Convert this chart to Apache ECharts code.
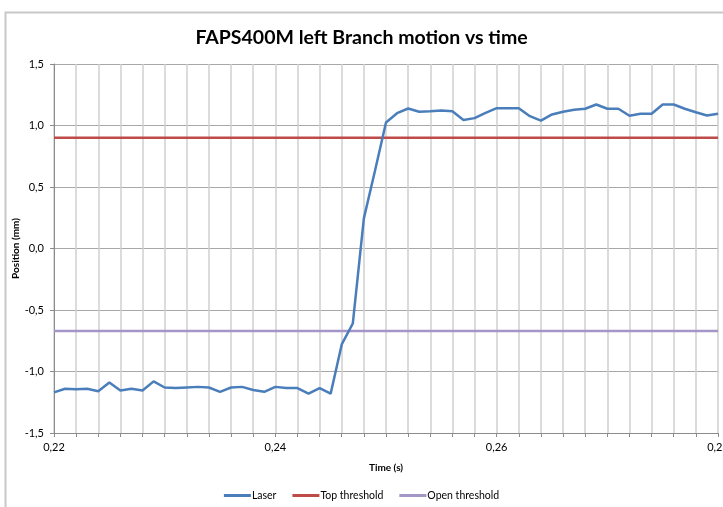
<!DOCTYPE html>
<html>
<head>
<meta charset="utf-8">
<script src="https://cdn.jsdelivr.net/npm/echarts@6/dist/echarts.min.js"></script>
<style>html,body{margin:0;padding:0;background:#fff;}#c{width:723px;height:507px;}</style>
</head>
<body>
<div id="c"></div>
<script>
const titleText = 'FAPS400M left Branch motion vs time';
const seriesNames = ['Laser', 'Top threshold', 'Open threshold'];
const times = [0.220,0.221,0.222,0.223,0.224,0.225,0.226,0.227,0.228,0.229,
  0.230,0.231,0.232,0.233,0.234,0.235,0.236,0.237,0.238,0.239,
  0.240,0.241,0.242,0.243,0.244,0.245,0.246,0.247,0.248,0.249,
  0.250,0.251,0.252,0.253,0.254,0.255,0.256,0.257,0.258,0.259,
  0.260,0.261,0.262,0.263,0.264,0.265,0.266,0.267,0.268,0.269,
  0.270,0.271,0.272,0.273,0.274,0.275,0.276,0.277,0.278,0.279,0.280];
const laser = [-1.17,-1.14,-1.145,-1.14,-1.16,-1.09,-1.155,-1.14,-1.155,-1.08,
  -1.13,-1.135,-1.13,-1.125,-1.13,-1.165,-1.13,-1.125,-1.15,-1.165,
  -1.125,-1.135,-1.135,-1.18,-1.135,-1.18,-0.78,-0.61,0.245,0.63,
  1.025,1.10,1.138,1.112,1.116,1.122,1.116,1.045,1.06,1.103,
  1.141,1.141,1.141,1.076,1.04,1.09,1.112,1.128,1.136,1.171,
  1.136,1.136,1.079,1.095,1.095,1.171,1.171,1.136,1.108,1.081,1.095];
const thresholdTimes = [0.22, 0.28];
const topThreshold = [0.9, 0.9];
const openThreshold = [-0.67, -0.67];
const xLabelTicks = [0.22, 0.24, 0.26, 0.28];
const yTickLabels = ['-1,5','-1,0','-0,5','0,0','0,5','1,0','1,5'];
const xAxisName = 'Time (s)';
const yAxisName = 'Position (mm)';

const font = 'Lato, "Open Sans", sans-serif';
const zip = (xs, ys) => xs.map((x, i) => [x, ys[i]]);

const chart = echarts.init(document.getElementById('c'), null, {renderer: 'canvas'});
chart.setOption({
  animation: false,
  backgroundColor: '#fff',
  textStyle: {fontFamily: font},
  graphic: [{
    type: 'rect', left: 3, top: 10, shape: {width: 740, height: 520},
    style: {fill: 'none', stroke: '#c8c8c8', lineWidth: 2}, silent: true
  }],
  title: {
    text: titleText, left: 'center', top: 23,
    textStyle: {fontFamily: font, fontWeight: 'bold', fontSize: 19.5, color: '#000'}
  },
  legend: {
    data: seriesNames, bottom: 1, left: 'center', icon: 'rect',
    itemWidth: 27, itemHeight: 3, itemGap: 16,
    textStyle: {fontFamily: font, fontSize: 10.5, color: '#000', padding: [0,0,0,-4]}
  },
  grid: {left: 54, right: 5, top: 64, bottom: 74, containLabel: false, outerBoundsMode: 'none'},
  xAxis: {
    type: 'value', min: 0.22, max: 0.28, interval: 0.002,
    name: xAxisName, nameLocation: 'middle', nameGap: 30, nameMoveOverlap: false,
    nameTextStyle: {fontFamily: font, fontWeight: 'bold', fontSize: 10, color: '#000'},
    axisLine: {onZero: false, lineStyle: {color: '#8c8c8c', width: 1}},
    axisTick: {show: true, length: 4, lineStyle: {color: '#8c8c8c'}},
    axisLabel: {
      fontFamily: font, fontSize: 11, color: '#000', margin: 9, showMaxLabel: true,
      formatter: v => xLabelTicks.some(t => Math.abs(t - v) < 1e-6) ? v.toFixed(2).replace('.', ',') : ''
    },
    splitLine: {show: true, lineStyle: {color: '#cfcfcf', width: 1.5}}
  },
  yAxis: {
    type: 'value', min: -1.5, max: 1.5, interval: 0.5,
    name: yAxisName, nameLocation: 'middle', nameGap: 33, nameRotate: 90, nameMoveOverlap: false,
    nameTextStyle: {fontFamily: font, fontWeight: 'bold', fontSize: 10, color: '#000'},
    axisLine: {show: true, lineStyle: {color: '#8c8c8c', width: 1}},
    axisTick: {show: true, length: 4, lineStyle: {color: '#8c8c8c'}},
    axisLabel: {
      fontFamily: font, fontSize: 11, color: '#000', margin: 10,
      formatter: v => yTickLabels[Math.round((v + 1.5) / 0.5)]
    },
    splitLine: {show: true, lineStyle: {color: '#a8a8a8', width: 1}}
  },
  series: [
    {name: seriesNames[0], type: 'line', data: zip(times, laser), showSymbol: false,
     lineStyle: {color: '#4a7ebb', width: 2.5}, itemStyle: {color: '#4a7ebb'}, z: 4},
    {name: seriesNames[1], type: 'line', data: zip(thresholdTimes, topThreshold), showSymbol: false,
     lineStyle: {color: '#be4b48', width: 2.5}, itemStyle: {color: '#be4b48'}, z: 3},
    {name: seriesNames[2], type: 'line', data: zip(thresholdTimes, openThreshold), showSymbol: false,
     lineStyle: {color: '#a596c8', width: 2.5}, itemStyle: {color: '#a596c8'}, z: 3}
  ]
});
</script>
</body>
</html>
